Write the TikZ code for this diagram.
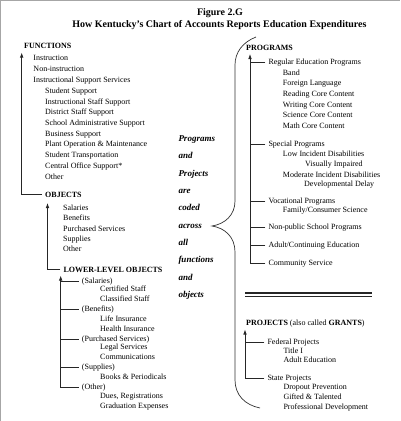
\documentclass[tikz,border=0pt]{standalone}
\usepackage{fontspec}
\setmainfont{Liberation Serif}
\usetikzlibrary{arrows.meta}
\begin{document}
\begin{tikzpicture}[x=1pt, y=-1pt,
  lbl/.style = {anchor=base west, inner xsep=3pt, inner ysep=0pt, xshift=-3pt, font=\fontsize{8}{9.6}\selectfont},
  head/.style = {lbl, font=\fontsize{8}{9.6}\selectfont\bfseries},
  title/.style = {anchor=base, inner sep=0pt, font=\fontsize{10}{12}\selectfont\bfseries},
  trunk/.style = {draw=black!85, line width=0.8pt, -{Latex[length=5pt, width=3.6pt]}},
  tick/.style = {draw=black!85, line width=0.8pt},
  brace/.style = {draw=black!80, line width=0.7pt}]
\useasboundingbox (0,0) rectangle (400,421);
\draw[gray!70, line width=0.8pt] (0,0.6) -- (400,0.6);
\draw[gray!70, line width=0.8pt] (0.6,0) -- (0.6,421);
\node[title] (fig) at (220,15) {Figure 2.G};
\node[title] (caption) at (219.5,27.5) {How Kentucky’s Chart of Accounts Reports Education Expenditures};
\node[head] at (24,48.5) (fhead) {FUNCTIONS};
\node[lbl] at (33.3,60.8) (f1) {Instruction};
\node[lbl] at (33.3,71.5) (f2) {Non-instruction};
\node[lbl] at (33.3,82.8) (f3) {Instructional Support Services};
\node[lbl] at (45,93.5) (f4) {Student Support};
\node[lbl] at (45,104.2) (f5) {Instructional Staff Support};
\node[lbl] at (45,114.8) (f6) {District Staff Support};
\node[lbl] at (45,125.8) (f7) {School Administrative Support};
\node[lbl] at (45,136.8) (f8) {Business Support};
\node[lbl] at (45,146.8) (f9) {Plant Operation \& Maintenance};
\node[lbl] at (45,157.5) (f10) {Student Transportation};
\node[lbl] at (45,168.5) (f11) {Central Office Support*};
\node[lbl] at (45,179.2) (f12) {Other};
\node[head] at (45,197.5) (ohead) {OBJECTS};
\node[lbl] at (63,210.2) (o1) {Salaries};
\node[lbl] at (63,220.7) (o2) {Benefits};
\node[lbl] at (63,231) (o3) {Purchased Services};
\node[lbl] at (63,241.3) (o4) {Supplies};
\node[lbl] at (63,251.6) (o5) {Other};
\node[head] at (63.3,272) (lhead) {LOWER-LEVEL OBJECTS};
\node[lbl] at (81.7,283.2) (l1) {(Salaries)};
\node[lbl] at (100,291.8) (l2) {Certified Staff};
\node[lbl] at (100,301.8) (l3) {Classified Staff};
\node[lbl] at (81.7,311.8) (l4) {(Benefits)};
\node[lbl] at (100,321.8) (l5) {Life Insurance};
\node[lbl] at (100,331.2) (l6) {Health Insurance};
\node[lbl] at (81.7,341.5) (l7) {(Purchased Services)};
\node[lbl] at (100,349.8) (l8) {Legal Services};
\node[lbl] at (100,359.8) (l9) {Communications};
\node[lbl] at (81.7,369.2) (l10) {(Supplies)};
\node[lbl] at (100,379.2) (l11) {Books \& Periodicals};
\node[lbl] at (81.7,389.2) (l12) {(Other)};
\node[lbl] at (100,398.5) (l13) {Dues, Registrations};
\node[lbl] at (100,408.2) (l14) {Graduation Expenses};
\coordinate (ftip) at (21.7,52.5);
\coordinate (otip) at (47.5,203);
\coordinate (ltip) at (60.7,275.5);
\draw[trunk] (ohead.west) -| (ftip);
\draw[trunk] (lhead.west) -| (otip);
\draw[trunk] (l12.west) -| (ltip);
\draw[tick] (l1.west) -- (l1.west -| ltip);
\draw[tick] (l4.west) -- (l4.west -| ltip);
\draw[tick] (l7.west) -- (l7.west -| ltip);
\draw[tick] (l10.west) -- (l10.west -| ltip);
\node[anchor=north west, inner sep=0pt, align=left, font=\fontsize{9}{17.33}\selectfont\bfseries\itshape] at (178.3,135.3) (note)
  {Programs\\and\\Projects\\are\\coded\\across\\all\\functions\\and\\objects};
\draw[brace] (256,37) .. controls (243,42) and (235,52) .. (235,65) -- (235,201)
  .. controls (235,215) and (225,224) .. (212,226) .. controls (225,228) and (235,237) .. (235,252)
  -- (235,380) .. controls (235,395) and (245,405) .. (260,408);
\node[head] at (246,50.8) (phead) {PROGRAMS};
\node[lbl] at (268.3,64.2) (p1) {Regular Education Programs};
\node[lbl] at (282.7,75.2) (p2) {Band};
\node[lbl] at (282.7,85.8) (p3) {Foreign Language};
\node[lbl] at (282.7,96.8) (p4) {Reading Core Content};
\node[lbl] at (282.7,107.5) (p5) {Writing Core Content};
\node[lbl] at (282.7,117.5) (p6) {Science Core Content};
\node[lbl] at (282.7,128.2) (p7) {Math Core Content};
\node[lbl] at (268.3,146.8) (p8) {Special Programs};
\node[lbl] at (282.7,156.8) (p9) {Low Incident Disabilities};
\node[lbl] at (305,166.5) (p10) {Visually Impaired};
\node[lbl] at (282.7,177) (p11) {Moderate Incident Disabilities};
\node[lbl] at (304,186.5) (p12) {Developmental Delay};
\node[lbl] at (268.3,203.2) (p13) {Vocational Programs};
\node[lbl] at (282.7,212.5) (p14) {Family/Consumer Science};
\node[lbl] at (268.3,229.2) (p15) {Non-public School Programs};
\node[lbl] at (268.3,247.5) (p16) {Adult/Continuing Education};
\node[lbl] at (268.3,265.2) (p17) {Community Service};
\coordinate (ptip) at (250,54);
\draw[trunk] (p17.west) -| (ptip);
\draw[tick] (p1.west) -- (p1.west -| ptip);
\draw[tick] (p8.west) -- (p8.west -| ptip);
\draw[tick] (p13.west) -- (p13.west -| ptip);
\draw[tick] (p15.west) -- (p15.west -| ptip);
\draw[tick] (p16.west) -- (p16.west -| ptip);
\draw[line width=2pt, black!85] (245,292.5) -- (372,292.5);
\draw[line width=0.7pt, black!85] (245,296) -- (372,296);
\node[lbl] at (246,325.2) (jhead) {\textbf{PROJECTS} (also called \textbf{GRANTS})};
\node[lbl] at (267.3,344.2) (j1) {Federal Projects};
\node[lbl] at (283.3,353.2) (j2) {Title I};
\node[lbl] at (283.3,362.5) (j3) {Adult Education};
\node[lbl] at (267.3,380.5) (j4) {State Projects};
\node[lbl] at (283.3,389.8) (j5) {Dropout Prevention};
\node[lbl] at (283.3,399.8) (j6) {Gifted \& Talented};
\node[lbl] at (283.3,409.2) (j7) {Professional Development};
\coordinate (jtip) at (245,329.5);
\draw[trunk] (j4.west) -| (jtip);
\draw[tick] (j1.west) -- (j1.west -| jtip);
\end{tikzpicture}
\end{document}
